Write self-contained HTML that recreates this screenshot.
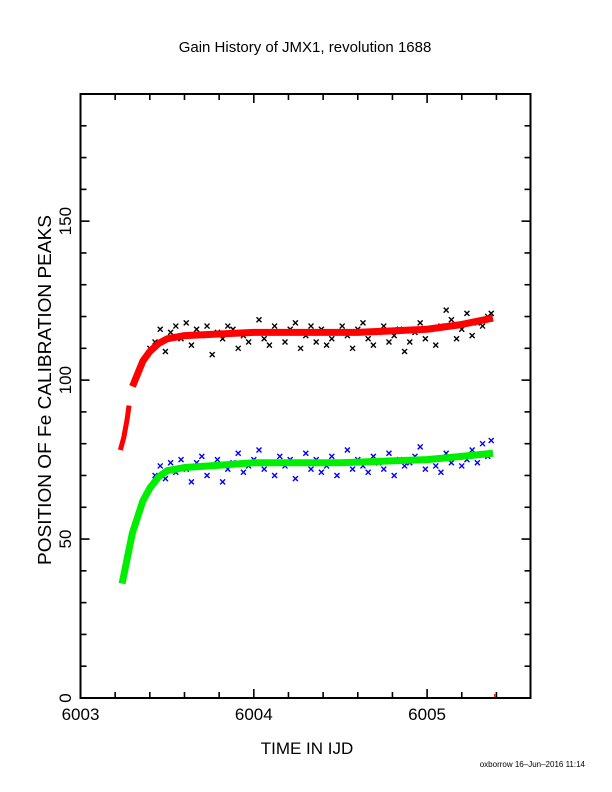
<!DOCTYPE html>
<html><head><meta charset="utf-8"><style>
body{margin:0;background:#fff}
svg{display:block;font-family:"Liberation Sans",sans-serif}
</style></head><body>
<svg id="chart" width="612" height="792" viewBox="0 0 612 792" xmlns="http://www.w3.org/2000/svg">
<rect width="612" height="792" fill="#fff"/>
<text x="305" y="52" font-size="15" text-anchor="middle">Gain History of JMX1, revolution 1688</text>
<text transform="translate(51,390) rotate(-90)" font-size="18" text-anchor="middle" textLength="350" lengthAdjust="spacingAndGlyphs">POSITION OF Fe CALIBRATION PEAKS</text>
<text x="307" y="754" font-size="17" text-anchor="middle">TIME IN IJD</text>
<text x="585" y="767" font-size="8" text-anchor="end">oxborrow 16–Jun–2016 11:14</text>
<g id="ticks"></g>
<g id="marks"></g>
<rect x="80.5" y="94" width="450" height="604" fill="none" stroke="#000" stroke-width="2"/>
</svg>
<script>
const xTicks=[6003,6004,6005];
const yTicks=[0,50,100,150];
const redFitX1=[6003.23,6003.25,6003.27,6003.28];
const redFitY1=[78,82,88,92];
const redFitX2=[6003.30,6003.33,6003.36,6003.40,6003.45,6003.50,6003.60,6003.80,6004.0,6004.3,6004.6,6004.8,6005.0,6005.2,6005.38];
const redFitY2=[98,102,106,109,111.5,113,114,114.5,115,115,115,115.5,116,117.5,119.5];
const greenFitX=[6003.24,6003.27,6003.30,6003.33,6003.36,6003.40,6003.45,6003.50,6003.60,6003.80,6004.0,6004.5,6005.0,6005.2,6005.38];
const greenFitY=[36,44,52,57,62,66,69.5,71.5,72.5,73.2,74,74,75,76,77];
const times=[6003.40,6003.43,6003.46,6003.49,6003.52,6003.55,6003.58,6003.61,6003.64,6003.67,6003.70,6003.73,6003.76,6003.79,6003.82,6003.85,6003.88,6003.91,6003.94,6003.97,
6004.00,6004.03,6004.06,6004.09,6004.12,6004.15,6004.18,6004.21,6004.24,6004.27,6004.30,6004.33,6004.36,6004.39,6004.42,6004.45,6004.48,6004.51,6004.54,6004.57,6004.60,6004.63,6004.66,6004.69,6004.72,6004.75,6004.78,6004.81,6004.84,6004.87,6004.90,6004.93,6004.96,6004.99,
6005.02,6005.05,6005.08,6005.11,6005.14,6005.17,6005.20,6005.23,6005.26,6005.29,6005.32,6005.35,6005.37];
const blackVals=[110,112,116,109,115,117,113,118,111,116,114,117,108,115,113,117,116,110,114,112,115,119,113,111,117,115,112,116,118,110,114,117,112,116,111,113,115,117,114,110,116,118,113,111,115,117,112,114,116,109,112,115,118,113,116,111,117,122,119,113,116,121,114,118,117,120,121];
const blueVals=[66,70,73,69,74,71,75,72,68,74,76,70,73,75,68,72,74,77,71,73,75,78,72,74,70,76,73,75,69,74,77,72,75,71,73,76,70,74,78,72,75,73,71,76,74,72,77,70,75,73,74,76,79,72,75,73,71,77,74,76,73,75,78,74,80,76,81];

const X=v=>80.5+(v-6003)*173.3;
const Y=v=>698-v*(604/190);
const NS="http://www.w3.org/2000/svg";
const tg=document.getElementById('ticks'), mg=document.getElementById('marks');
function line(g,x1,y1,x2,y2,c,w){const l=document.createElementNS(NS,'line');l.setAttribute('x1',x1);l.setAttribute('y1',y1);l.setAttribute('x2',x2);l.setAttribute('y2',y2);l.setAttribute('stroke',c);l.setAttribute('stroke-width',w);g.appendChild(l);return l;}
for(let i=0;i<=13;i++){const v=6003+i*0.2;const x=X(v);if(x>531)break;const major=i%5===0;const L=major?9:6;
const t1=line(tg,x,698,x,698-L,'#000',1.6);


const t2=line(tg,x,94,x,94+L,'#000',1.6);

}
for(let v=0;v<=190;v+=10){const y=Y(v);const major=v%50===0;const L=major?9:6;
const t1=line(tg,80.5,y,80.5+L,y,'#000',1.6);


const t2=line(tg,530.5,y,530.5-L,y,'#000',1.6);

}
xTicks.forEach(v=>{const t=document.createElementNS(NS,'text');t.setAttribute('x',X(v));t.setAttribute('y',720);t.setAttribute('font-size',17);t.setAttribute('text-anchor','middle');t.textContent=v;


tg.appendChild(t);});
yTicks.forEach(v=>{const t=document.createElementNS(NS,'text');t.setAttribute('transform',`translate(71,${Y(v)}) rotate(-90)`);t.setAttribute('font-size',17);t.setAttribute('text-anchor','middle');t.textContent=v;


tg.appendChild(t);});
function cross(x,y,c,name){const p=document.createElementNS(NS,'path');const s=2.5;p.setAttribute('d',`M${x-s},${y-s}L${x+s},${y+s}M${x-s},${y+s}L${x+s},${y-s}`);p.setAttribute('stroke',c);p.setAttribute('stroke-width',1.4);


mg.appendChild(p);}
times.forEach((t,i)=>{cross(X(t),Y(blackVals[i]),'#000','black-point');cross(X(t),Y(blueVals[i]),'#0000ff','blue-point');});
function poly(xs,ys,c,w,name){const p=document.createElementNS(NS,'polyline');p.setAttribute('points',xs.map((x,i)=>X(x)+','+Y(ys[i])).join(' '));p.setAttribute('fill','none');p.setAttribute('stroke',c);p.setAttribute('stroke-width',w);p.setAttribute('stroke-linejoin','round');


mg.appendChild(p);}
poly(redFitX1,redFitY1,'#ff0000',5,'red-fit-early');
poly(redFitX2,redFitY2,'#ff0000',7,'red-fit');
poly(greenFitX,greenFitY,'#00ee00',7,'green-fit');
const rt=line(mg,X(6005.39),698,X(6005.39),694,'#ff0000',1.2);


</script>
</body></html>
